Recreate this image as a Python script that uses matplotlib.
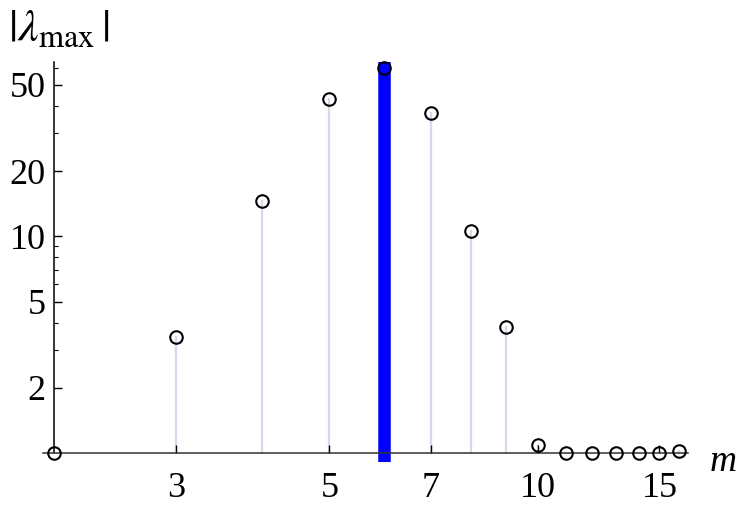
import numpy as np
import matplotlib
matplotlib.use('Agg')
from matplotlib import pyplot as plt
from matplotlib.ticker import FixedLocator, NullFormatter, FixedFormatter

plt.rcParams['font.family'] = ['Liberation Serif', 'DejaVu Serif']
plt.rcParams['mathtext.fontset'] = 'stix'

# m values and |lambda_max|
m_values = [2, 3, 4, 5, 6, 7, 8, 9, 10, 11, 12, 13, 14, 15, 16]
lam_max = [1.0, 3.43, 14.5, 43.2, 59.8, 37.2, 10.6, 3.8, 1.09, 1.0, 1.0, 1.0, 1.0, 1.0, 1.02]
highlight_m = 6

x_ticks = [3, 5, 7, 10, 15]
y_ticks = [2, 5, 10, 20, 50]
y_minor = [3, 4, 6, 7, 8, 9, 30, 40, 60]

fig = plt.figure(figsize=(7.43, 5.12), dpi=100)
ax = fig.add_axes([43 / 743, 50 / 512, 645 / 743, 400 / 512])
ax.set_xscale('log')
ax.set_yscale('log')
ax.set_xlim(1.926, 16.5)
ax.set_ylim(0.909, 63.8)

# stems from the axis up to each point
for m, v in zip(m_values, lam_max):
    if v > 1.0:
        ax.plot([m, m], [1.0, v], color='#d8d8ec', lw=1.6, zorder=1)

# highlighted m
ax.axvline(highlight_m, color='#0000ff', lw=9, zorder=2)

ax.plot(m_values, lam_max, 'o', ms=9, mfc='none', mec='black', mew=1.5, zorder=4, clip_on=False)

# Mathematica-like axes crossing at (2, 1)
for side in ['top', 'right']:
    ax.spines[side].set_visible(False)
ax.spines['left'].set_position(('data', 2))
ax.spines['bottom'].set_position(('data', 1))
ax.spines['left'].set_bounds(1.0, 63.8)
ax.spines['left'].set_linewidth(1.1)
ax.spines['bottom'].set_linewidth(1.1)
ax.spines['bottom'].set_color('#333333')

ax.xaxis.set_major_locator(FixedLocator(x_ticks))
ax.xaxis.set_major_formatter(FixedFormatter([str(t) for t in x_ticks]))
ax.xaxis.set_minor_locator(FixedLocator([]))
ax.xaxis.set_minor_formatter(NullFormatter())
ax.yaxis.set_major_locator(FixedLocator(y_ticks))
ax.yaxis.set_major_formatter(FixedFormatter([str(t) for t in y_ticks]))
ax.yaxis.set_minor_locator(FixedLocator(y_minor))
ax.yaxis.set_minor_formatter(NullFormatter())

ax.tick_params(axis='both', which='major', direction='in', length=6, width=1, labelsize=26)
ax.tick_params(axis='both', which='minor', direction='in', length=3, width=0.8)
ax.tick_params(axis='x', pad=14)
ax.tick_params(axis='y', pad=6)

fig.text(8 / 743, 1 - 30 / 512, r'$|\lambda_{\mathrm{max}}\,|$', fontsize=33, va='center', ha='left')
fig.text(737 / 743, 1 - 462 / 512, 'm', fontsize=27, style='italic', va='center', ha='right')

plt.savefig('out.png', dpi=100)
